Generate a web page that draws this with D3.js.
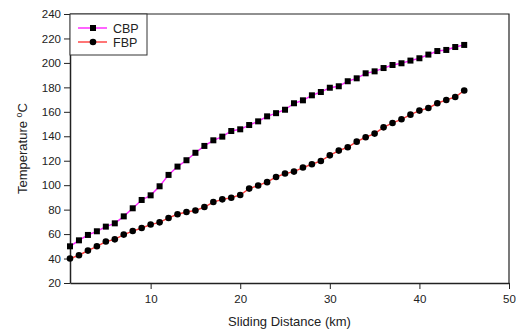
<!DOCTYPE html>
<html>
<head>
<meta charset="utf-8">
<script src="https://cdn.jsdelivr.net/npm/d3@7"></script>
<style>
  body { margin: 0; background: #fff; }
  svg text { font-family: "Liberation Sans", Arial, sans-serif; fill: #222; }
</style>
</head>
<body>
<div id="chart"></div>
<script>
// Sliding distance (km)
const distance = d3.range(1, 46);

// Temperature readings (°C)
const cbp = [50, 54.9, 59.3, 62.3, 66.1, 68.8, 74.5, 81.1, 87.9, 91.7,
  99.1, 108.4, 115.2, 120.4, 126.5, 132.1, 136.7, 139.7, 144.3, 145.7,
  149.2, 152.2, 156.3, 158.9, 161.7, 167.0, 169.4, 173.5, 176.2, 179.7,
  180.9, 185.0, 187.4, 191.5, 193.1, 195.8, 198.3, 199.7, 201.9, 203.8,
  206.8, 209.7, 210.6, 213.0, 214.7];
const fbp = [40, 42.7, 46.5, 50.0, 53.9, 55.7, 59.6, 62.5, 65.0, 67.8,
  69.6, 73.2, 76.2, 78.1, 79.3, 82.1, 86.2, 88.4, 89.7, 92.0,
  97.2, 99.8, 102.5, 106.7, 109.5, 111.1, 114.4, 117.1, 119.8, 124.4,
  128.3, 131.0, 135.6, 139.2, 142.2, 147.3, 150.9, 153.9, 157.7, 161.0,
  163.1, 167.0, 169.7, 172.1, 177.4];

const xTicks = [10, 20, 30, 40, 50];
const yTicks = d3.range(20, 241, 20);

const series = [
  { name: 'CBP', values: cbp, color: '#ff22ff', marker: 'square' },
  { name: 'FBP', values: fbp, color: '#ff3b3b', marker: 'circle' }
];

const width = 516, height = 331;
const margin = { top: 14, right: 7, bottom: 48, left: 70 };

const svg = d3.select('#chart').append('svg')
  .attr('width', width)
  .attr('height', height);

const x = d3.scaleLinear().domain([1, 50]).range([margin.left, width - margin.right]);
const y = d3.scaleLinear().domain([20, 240]).range([height - margin.bottom, margin.top]);

// frame (top and right)
svg.append('path')
  .attr('d', `M${x(1)},${y(240)}H${x(50)}V${y(20)}`)
  .attr('fill', 'none')
  .attr('stroke', '#222')
  .attr('stroke-width', 1.2);

// axes
const xAxis = svg.append('g')
  .attr('transform', `translate(0,${y(20)})`)
  .call(d3.axisBottom(x).tickValues(xTicks).tickSize(6).tickPadding(6).tickSizeOuter(0));
const yAxis = svg.append('g')
  .attr('transform', `translate(${x(1)},0)`)
  .call(d3.axisLeft(y).tickValues(yTicks).tickSize(6).tickPadding(3).tickSizeOuter(0));

[xAxis, yAxis].forEach(g => {
  g.select('.domain').attr('stroke', '#222').attr('stroke-width', 1.5);
  g.selectAll('.tick line').attr('stroke', '#222');
  g.selectAll('.tick text')
    .attr('font-size', 11.5)
    .style('font-family', '"Liberation Sans", Arial, sans-serif')
    .attr('fill', '#222');
});

// axis titles
svg.append('text')
  .attr('x', (x(1) + x(50)) / 2)
  .attr('y', 326)
  .attr('text-anchor', 'middle')
  .attr('font-size', 13)
  .text('Sliding Distance (km)');

const yTitle = svg.append('text')
  .attr('transform', `translate(27,${(y(20) + y(240)) / 2}) rotate(-90)`)
  .attr('text-anchor', 'middle')
  .attr('font-size', 13);
yTitle.append('tspan').text('Temperature ');
yTitle.append('tspan').attr('font-size', 9).attr('dy', -5).text('o');
yTitle.append('tspan').attr('dy', 5).text('C');

// lines and markers
const line = d3.line()
  .x((d, i) => x(distance[i]))
  .y(d => y(d));

series.forEach(s => {
  svg.append('path')
    .datum(s.values)
    .attr('fill', 'none')
    .attr('stroke', s.color)
    .attr('stroke-width', 1.4)
    .attr('d', line);

  const pts = svg.append('g').selectAll('.pt')
    .data(s.values)
    .enter();
  if (s.marker === 'square') {
    pts.append('rect')
      .attr('x', (d, i) => x(distance[i]) - 3)
      .attr('y', d => y(d) - 3)
      .attr('width', 6)
      .attr('height', 6)
      .attr('fill', '#000');
  } else {
    pts.append('circle')
      .attr('cx', (d, i) => x(distance[i]))
      .attr('cy', d => y(d))
      .attr('r', 3.3)
      .attr('fill', '#000');
  }
});

// legend
const legend = svg.append('g');
legend.append('rect')
  .attr('x', x(1))
  .attr('y', y(240))
  .attr('width', 77)
  .attr('height', 41)
  .attr('fill', '#fff')
  .attr('stroke', '#333')
  .attr('stroke-width', 1);

series.forEach((s, i) => {
  const ly = 28 + i * 14;
  legend.append('line')
    .attr('x1', 78).attr('x2', 107)
    .attr('y1', ly).attr('y2', ly)
    .attr('stroke', s.color)
    .attr('stroke-width', 1.4);
  if (s.marker === 'square') {
    legend.append('rect')
      .attr('x', 90).attr('y', ly - 3)
      .attr('width', 6).attr('height', 6)
      .attr('fill', '#000');
  } else {
    legend.append('circle')
      .attr('cx', 93).attr('cy', ly)
      .attr('r', 3.3)
      .attr('fill', '#000');
  }
  legend.append('text')
    .attr('x', 113)
    .attr('y', ly + 4.5)
    .attr('font-size', 12.5)
    .text(s.name);
});
</script>
</body>
</html>
